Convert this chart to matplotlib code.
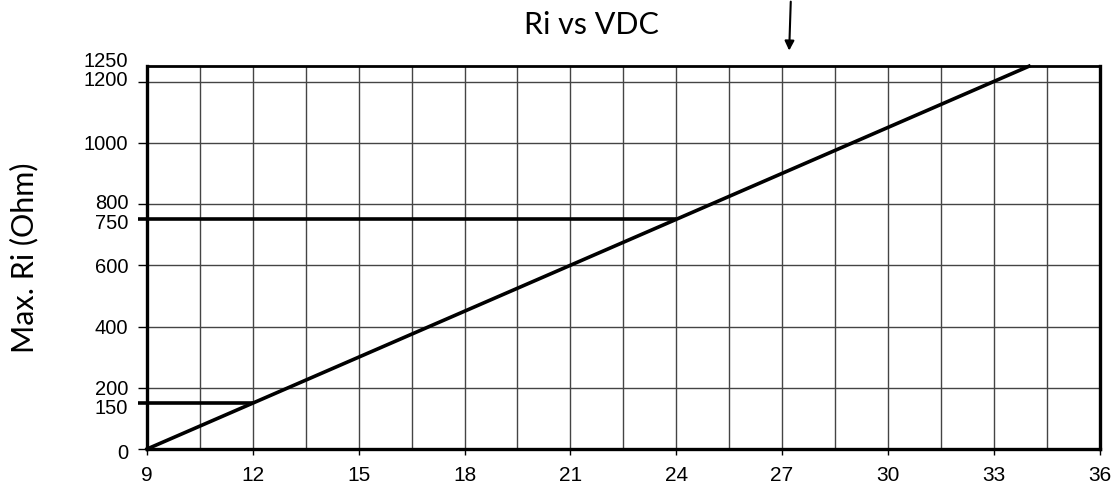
import matplotlib
matplotlib.use("Agg")
import matplotlib.pyplot as plt
import matplotlib.transforms as mtransforms
import numpy as np

plt.rcParams["font.family"] = "Liberation Sans"

# Data: Max. Ri vs supply voltage
vdc = [9, 34]
ri = [0, 1250]
limit_v = [24, 12]
limit_ri = [750, 150]

x_ticks = [9, 12, 15, 18, 21, 24, 27, 30, 33, 36]
x_grid = np.arange(9, 36.1, 1.5)
y_ticks = [0, 150, 200, 400, 600, 750, 800, 1000, 1200, 1250]
y_grid = [200, 400, 600, 800, 1000, 1200]
# small label nudges (points) so crowded tick labels separate like the original
label_nudge = {1250: 4.5, 1200: 2.0, 800: 1.5, 750: -1.5, 150: -2.5, 0: -1.5}

fig = plt.figure(figsize=(11.14, 4.87), dpi=100)
ax = fig.add_axes([0.132, 0.078, 0.855, 0.786])

ax.set_xlim(9, 36)
ax.set_ylim(0, 1250)

# grid
for xv in x_grid:
    ax.axvline(xv, color="#444444", lw=1.0, zorder=1)
for yv in y_grid:
    ax.axhline(yv, color="#444444", lw=1.0, zorder=1)

# main line and limit lines
ax.plot(vdc, ri, color="black", lw=2.6, zorder=3, clip_on=False)
for v, r in zip(limit_v, limit_ri):
    ax.plot([9, v], [r, r], color="black", lw=2.6, zorder=3, solid_capstyle="butt")

ax.set_xticks(x_ticks)
ax.set_yticks(y_ticks)
ax.tick_params(axis="x", length=4, width=1.0, labelsize=15, pad=8)
ax.tick_params(axis="y", length=6.5, width=1.0, labelsize=14.5, pad=7)
for t, val in zip(ax.yaxis.get_major_ticks(), y_ticks):
    if val in limit_ri:
        t.tick1line.set_markeredgewidth(2.6)
    if val == 1250:
        t.tick1line.set_visible(False)
    dy = label_nudge.get(val, 0)
    if dy:
        off = mtransforms.ScaledTranslation(0, dy / 72, fig.dpi_scale_trans)
        t.label1.set_transform(t.label1.get_transform() + off)

for side in ["left", "right", "bottom"]:
    ax.spines[side].set_linewidth(2.4)
ax.spines["top"].set_linewidth(2.0)

ax.set_ylabel("Max. Ri (Ohm)", fontsize=22, family="Lato")
ax.yaxis.set_label_coords(-0.114, 0.5)

fig.text(0.531, 0.948, "Ri vs VDC", ha="center", va="center", fontsize=22, family="Lato")

# arrow pointing into the chart
ax.annotate("", xy=(27.2, 1292), xytext=(27.25, 1470),
            arrowprops=dict(arrowstyle="-|>", color="black", lw=1.5, mutation_scale=14),
            annotation_clip=False)

fig.savefig("out.png", dpi=100)
